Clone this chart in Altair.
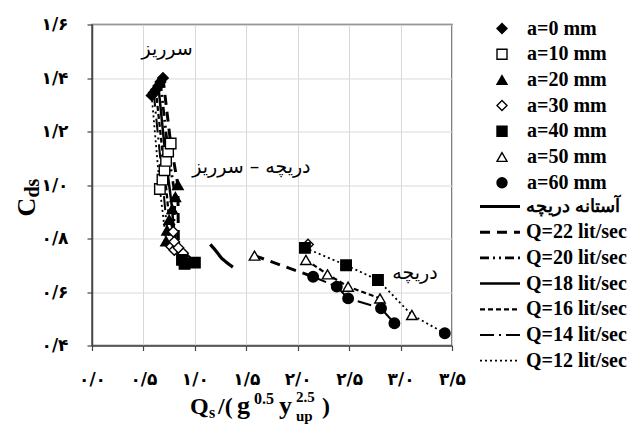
import altair as alt
import pandas as pd

# ---------------- axis ticks and labels ----------------
X_TICKS = [0, 0.5, 1.0, 1.5, 2.0, 2.5, 3.0, 3.5]
X_LABELS = ["۰/۰", "۰/۵", "۱/۰", "۱/۵", "۲/۰", "۲/۵", "۳/۰", "۳/۵"]
Y_TICKS = [0.4, 0.6, 0.8, 1.0, 1.2, 1.4, 1.6]
Y_LABELS = ["۰/۴", "۰/۶", "۰/۸", "۱/۰", "۱/۲", "۱/۴", "۱/۶"]

# ---------------- point series ----------------
SERIES = ["a=0 mm", "a=10 mm", "a=20 mm", "a=30 mm", "a=40 mm", "a=50 mm", "a=60 mm"]
SHAPES = ["diamond", "square", "triangle-up", "diamond", "square", "triangle-up", "circle"]
FILLS = ["black", "white", "black", "white", "black", "white", "black"]

A0_X = [0.58, 0.60, 0.62, 0.645, 0.665, 0.69]
A0_Y = [1.335, 1.345, 1.355, 1.37, 1.385, 1.40]
A10_X = [0.66, 0.685, 0.705, 0.72, 0.74, 0.765]
A10_Y = [0.985, 1.02, 1.055, 1.09, 1.125, 1.155]
A20_X = [0.72, 0.73, 0.75, 0.78, 0.81, 0.835]
A20_Y = [0.79, 0.83, 0.87, 0.91, 0.955, 1.0]
A30_X = [0.77, 0.80, 0.885, 0.80, 0.79, 0.84, 2.10]
A30_Y = [0.77, 0.757, 0.745, 0.788, 0.825, 0.765, 0.778]
A40_X = [0.875, 0.90, 1.0, 2.07, 2.47, 2.78]
A40_Y = [0.72, 0.705, 0.71, 0.765, 0.70, 0.645]
A50_X = [1.58, 2.08, 2.29, 2.49, 2.80, 3.11]
A50_Y = [0.736, 0.72, 0.666, 0.62, 0.576, 0.514]
A60_X = [2.15, 2.38, 2.49, 2.81, 2.94, 3.43]
A60_Y = [0.657, 0.62, 0.576, 0.539, 0.483, 0.446]

SERIES_X = [A0_X, A10_X, A20_X, A30_X, A40_X, A50_X, A60_X]
SERIES_Y = [A0_Y, A10_Y, A20_Y, A30_Y, A40_Y, A50_Y, A60_Y]

# ---------------- line series ----------------
LINE_NAMES = ["آستانه دریچه", "Q=22 lit/sec", "Q=20 lit/sec", "Q=18 lit/sec",
              "Q=16 lit/sec", "Q=14 lit/sec", "Q=12 lit/sec"]
DASHES = [[1, 0], [10, 7], [9, 4, 2, 4, 2, 4], [1, 0], [5, 3], [14, 5, 2, 5], [2, 3]]
WIDTHS = [3.2, 1.8, 1.8, 1.8, 1.8, 1.8, 1.8]

THRESH_X = [1.15, 1.20, 1.26, 1.32, 1.37]
THRESH_Y = [0.778, 0.756, 0.726, 0.707, 0.693]

Q12_LEFT_X = [0.58, 0.66, 0.72, 0.77]
Q12_LEFT_Y = [1.335, 0.985, 0.79, 0.77]
Q14_LEFT_X = [0.60, 0.685, 0.73, 0.80]
Q14_LEFT_Y = [1.345, 1.02, 0.83, 0.757]
Q16_LEFT_X = [0.62, 0.705, 0.75, 0.885]
Q16_LEFT_Y = [1.355, 1.055, 0.87, 0.745]
Q18_LEFT_X = [0.645, 0.72, 0.78, 0.80, 1.0]
Q18_LEFT_Y = [1.37, 1.09, 0.91, 0.788, 0.71]
Q20_LEFT_X = [0.665, 0.74, 0.81, 0.79, 0.90]
Q20_LEFT_Y = [1.385, 1.125, 0.955, 0.825, 0.705]
Q22_LEFT_X = [0.69, 0.765, 0.835, 0.84, 0.875]
Q22_LEFT_Y = [1.40, 1.155, 1.0, 0.765, 0.72]

Q22_RIGHT_X = [1.58, 2.15]
Q22_RIGHT_Y = [0.736, 0.657]
Q16_RIGHT_X = [2.08, 2.29, 2.49, 2.80]
Q16_RIGHT_Y = [0.72, 0.666, 0.62, 0.576]
Q14_RIGHT_X = [2.15, 2.38, 2.49, 2.81, 2.94]
Q14_RIGHT_Y = [0.657, 0.62, 0.576, 0.539, 0.483]
Q12_RIGHT_X = [2.07, 2.47, 2.78, 3.11, 3.43]
Q12_RIGHT_Y = [0.765, 0.70, 0.645, 0.514, 0.446]

LINE_SEGMENTS = [
    ("آستانه دریچه", THRESH_X, THRESH_Y),
    ("Q=12 lit/sec", Q12_LEFT_X, Q12_LEFT_Y),
    ("Q=14 lit/sec", Q14_LEFT_X, Q14_LEFT_Y),
    ("Q=16 lit/sec", Q16_LEFT_X, Q16_LEFT_Y),
    ("Q=18 lit/sec", Q18_LEFT_X, Q18_LEFT_Y),
    ("Q=20 lit/sec", Q20_LEFT_X, Q20_LEFT_Y),
    ("Q=22 lit/sec", Q22_LEFT_X, Q22_LEFT_Y),
    ("Q=22 lit/sec", Q22_RIGHT_X, Q22_RIGHT_Y),
    ("Q=16 lit/sec", Q16_RIGHT_X, Q16_RIGHT_Y),
    ("Q=14 lit/sec", Q14_RIGHT_X, Q14_RIGHT_Y),
    ("Q=12 lit/sec", Q12_RIGHT_X, Q12_RIGHT_Y),
]

# ---------------- annotations ----------------
ANN_TEXT = ["سرریز", "دریچه – سرریز", "دریچه"]
ANN_X = [0.73, 1.55, 3.14]
ANN_Y = [1.51, 1.067, 0.671]

# ---------------- build tables ----------------
pts = []
for name, xs, ys in zip(SERIES, SERIES_X, SERIES_Y):
    for x, y in zip(xs, ys):
        pts.append({"s": name, "x": x, "y": y})
pts = pd.DataFrame(pts)

rows = []
for k, (name, xs, ys) in enumerate(LINE_SEGMENTS):
    for i, (x, y) in enumerate(zip(xs, ys)):
        rows.append({"line": name, "seg": k, "i": i, "x": x, "y": y})
lines = pd.DataFrame(rows)

a0 = pd.DataFrame({"x": A0_X, "y": A0_Y})
ann = pd.DataFrame({"t": ANN_TEXT, "x": ANN_X, "y": ANN_Y})


def label_expr(ticks, labels):
    expr = "''"
    for t, l in reversed(list(zip(ticks, labels))):
        expr = f"abs(datum.value - {t}) < 0.01 ? '{l}' : " + expr
    return expr


axis_common = dict(
    grid=True, gridColor="#d9d9d9", gridWidth=1,
    domainColor="#444", domainWidth=1.5, tickColor="#444", tickWidth=1.2, tickSize=5,
    labelFont="DejaVu Sans", labelFontWeight="bold", labelFontSize=17,
    labelColor="black", labelFlush=False, labelOverlap=False, title=None,
)

x_enc = alt.X("x:Q", scale=alt.Scale(domain=[0, 3.5], nice=False, zero=False),
              axis=alt.Axis(values=X_TICKS, labelExpr=label_expr(X_TICKS, X_LABELS),
                            labelPadding=21, **axis_common))
y_enc = alt.Y("y:Q", scale=alt.Scale(domain=[0.4, 1.6], nice=False, zero=False),
              axis=alt.Axis(values=Y_TICKS, labelExpr=label_expr(Y_TICKS, Y_LABELS),
                            labelPadding=19, **axis_common))

leg_common = dict(
    title=None, orient="none", padding=0,
    labelFont="Liberation Serif", labelFontWeight="bold",
    labelColor="black", rowPadding=5.7, clipHeight=20,
    symbolStrokeColor="black", symbolOpacity=1,
)
leg_pts = alt.Legend(legendX=400, legendY=-6, labelOffset=15, symbolSize=100,
                     symbolStrokeWidth=1.4, labelFontSize=20, **leg_common)
leg_lines = alt.Legend(
    legendX=386, legendY=172, labelOffset=4, symbolType="stroke", symbolSize=1600,
    labelFontSize=alt.ExprRef(expr=f"datum.value == '{LINE_NAMES[0]}' ? 18 : 20"),
    **leg_common)

line_layer = alt.Chart(lines).mark_line(color="black", strokeCap="butt").encode(
    x=x_enc, y=y_enc,
    strokeDash=alt.StrokeDash("line:N", scale=alt.Scale(domain=LINE_NAMES, range=DASHES),
                              sort=LINE_NAMES, legend=leg_lines),
    strokeWidth=alt.StrokeWidth("line:N", scale=alt.Scale(domain=LINE_NAMES, range=WIDTHS),
                                sort=LINE_NAMES, legend=leg_lines),
    detail="seg:N",
    order="i:Q",
)

a0_layer = alt.Chart(a0).mark_line(color="black", strokeWidth=1.6).encode(
    x="x:Q", y="y:Q", order="y:Q"
)

pt_layer = alt.Chart(pts).mark_point(filled=True, size=110, strokeWidth=1.4,
                                     opacity=1).encode(
    x="x:Q", y="y:Q",
    shape=alt.Shape("s:N", scale=alt.Scale(domain=SERIES, range=SHAPES), legend=leg_pts),
    fill=alt.Fill("s:N", scale=alt.Scale(domain=SERIES, range=FILLS), legend=leg_pts),
    stroke=alt.Stroke("s:N", scale=alt.Scale(domain=SERIES, range=["black"] * len(SERIES)),
                      legend=leg_pts),
)

ann_layer = alt.Chart(ann).mark_text(font="DejaVu Sans", fontSize=19, color="black").encode(
    x="x:Q", y="y:Q", text="t:N"
)

# title pieces: (text, x, y, font size, angle) in plot-area pixels
SERIF = "Liberation Serif"
TITLE_PIECES = [
    ("Q", 98, 389.5, 24, 0), ("s", 117, 393.5, 16, 0), ("/(", 126, 389.5, 24, 0),
    ("g", 145, 389.5, 26, 0), ("0.5", 162, 379, 16, 0), ("y", 187, 389.5, 26, 0),
    ("2.5", 204, 377, 15, 0), ("up", 204, 396.5, 15, 0), (")", 230, 389.5, 24, 0),
    ("C", -57, 192, 26, 270), ("ds", -53, 173, 20, 270),
]
title_layers = []
for t, px, py, fs, ang in TITLE_PIECES:
    title_layers.append(
        alt.Chart(pd.DataFrame({"t": [t]})).mark_text(
            font=SERIF, fontWeight="bold", fontSize=fs, color="black",
            align="left", baseline="alphabetic", angle=ang
        ).encode(text="t:N", x=alt.value(px), y=alt.value(py))
    )

chart = alt.layer(line_layer, a0_layer, pt_layer, ann_layer, *title_layers).properties(
    width=360, height=321,
    autosize=alt.AutoSizeParams(type="none"),
    padding={"left": 84, "top": 16.5, "right": 177, "bottom": 80},
).configure_view(stroke="#555", strokeWidth=1.5)

chart.save("out.html", embed_options={"renderer": "svg", "actions": False})
